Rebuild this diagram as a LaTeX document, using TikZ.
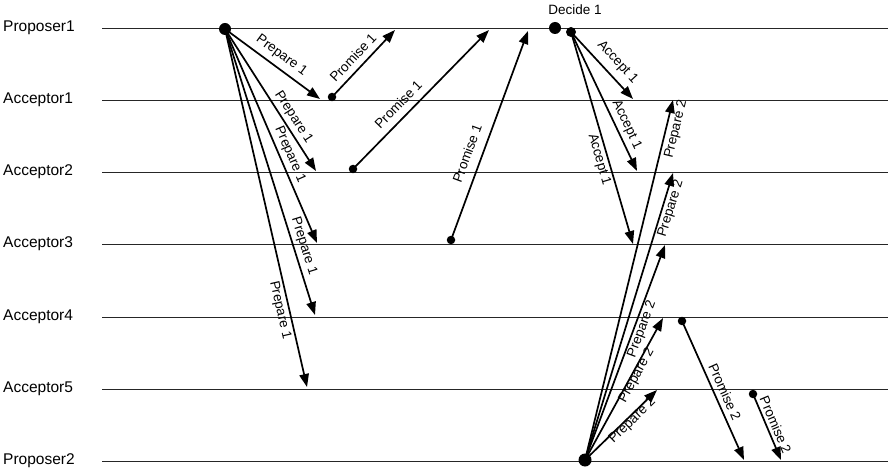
\documentclass[tikz,border=0pt]{standalone}
\usepackage{fontspec}
\setmainfont{Liberation Sans}
\usetikzlibrary{arrows.meta}
\begin{document}
\begin{tikzpicture}[x=1pt,y=-1pt,
  lane/.style={draw=black!85, line width=0.9pt},
  lanelbl/.style={anchor=west, inner sep=0pt, font=\fontsize{15.5}{16}\selectfont},
  msg/.style={-{Triangle[length=13pt,width=9.5pt]}, line width=1.7pt},
  lbl/.style={sloped, inner sep=0pt, font=\fontsize{13.5}{14}\selectfont},
  bigdot/.style={circle, fill, inner sep=0pt, minimum size=12pt},
  smalldot/.style={circle, fill, inner sep=0pt, minimum size=8.5pt}]
\useasboundingbox (0,0) rectangle (888,470);

% lanes
\foreach \n/\t/\y in {P1/Proposer1/28, A1/Acceptor1/100, A2/Acceptor2/172, A3/Acceptor3/244, A4/Acceptor4/317, A5/Acceptor5/389, P2/Proposer2/461}{
  \node[lanelbl] (l\n) at (3,\y) {\t};
  \coordinate (\n s) at (102,\y);
  \coordinate (\n e) at (888,\y);
  \draw[lane] (\n s) -- (\n e);
}

% Proposer1 prepare 1
\node[bigdot] (s1) at (225,29) {};
\coordinate (e11) at (320,99);
\coordinate (e12) at (316,171);
\coordinate (e13) at (317,243);
\coordinate (e14) at (315,315);
\coordinate (e15) at (307,387);
\draw[msg] (s1.center) -- (e11) node[lbl, pos=.52, above=5pt] {Prepare 1};
\draw[msg] (s1.center) -- (e12) node[lbl, pos=.66, above=3pt] {Prepare 1};
\draw[msg] (s1.center) -- (e13) node[lbl, pos=.605, above=3pt] {Prepare 1};
\draw[msg] (s1.center) -- (e14) node[lbl, pos=.77, above=3pt] {Prepare 1};
\draw[msg] (s1.center) -- (e15) node[lbl, pos=.78, below=2.5pt] {Prepare 1};

% Promise 1
\node[smalldot] (d21) at (332,97) {};
\node[smalldot] (d22) at (353,169) {};
\node[smalldot] (d23) at (451,240) {};
\coordinate (q11) at (395,30);
\coordinate (q12) at (489,30);
\coordinate (q13) at (528,31);
\draw[msg] (d21.center) -- (q11) node[lbl, pos=.47, above=6pt] {Promise 1};
\draw[msg] (d22.center) -- (q12) node[lbl, pos=.40, above=7pt] {Promise 1};
\draw[msg] (d23.center) -- (q13) node[lbl, pos=.39, above=9pt] {Promise 1};

% Decide 1
\node[bigdot] (dec) at (555,28) {};
\node[inner sep=0pt, font=\fontsize{13.5}{14}\selectfont] (decl) at (575,9.5) {Decide 1};
\node[circle, fill, inner sep=0pt, minimum size=10pt] (acc) at (571,32) {};

% Accept 1
\coordinate (a11) at (633,99);
\coordinate (a12) at (637,171);
\coordinate (a13) at (633,244);
\draw[msg] (acc.center) -- (a11) node[lbl, pos=.59, above=6.5pt] {Accept 1};
\draw[msg] (acc.center) -- (a12) node[lbl, pos=.70, above=3.5pt] {Accept 1};
\draw[msg] (acc.center) -- (a13) node[lbl, pos=.59, below=2pt] {Accept 1};

% Proposer2 prepare 2
\node[bigdot, minimum size=13pt] (s2) at (585,460) {};
\coordinate (e21) at (673,100);
\coordinate (e22) at (673,173);
\coordinate (e23) at (665,245);
\coordinate (e24) at (663,318);
\coordinate (e25) at (657,390);
\draw[msg] (s2.center) -- (e21) node[lbl, pos=.925, below=3pt] {Prepare 2};
\draw[msg] (s2.center) -- (e22) node[lbl, pos=.885, below=1.5pt] {Prepare 2};
\draw[msg] (s2.center) -- (e23) node[lbl, pos=.62, below=1pt] {Prepare 2};
\draw[msg] (s2.center) -- (e24) node[lbl, pos=.61, below=-2.2pt] {Prepare 2};
\draw[msg] (s2.center) -- (e25) node[lbl, pos=.61, below=-1.9pt] {Prepare 2};

% Promise 2
\node[smalldot] (d24) at (682,321) {};
\node[smalldot] (d25) at (753,394) {};
\coordinate (q24) at (744,460);
\coordinate (q25) at (781,460);
\draw[msg] (d24.center) -- (q24) node[lbl, pos=.54, above=4.5pt] {Promise 2};
\draw[msg] (d25.center) -- (q25) node[lbl, pos=.52, above=3pt] {Promise 2};
\end{tikzpicture}
\end{document}
